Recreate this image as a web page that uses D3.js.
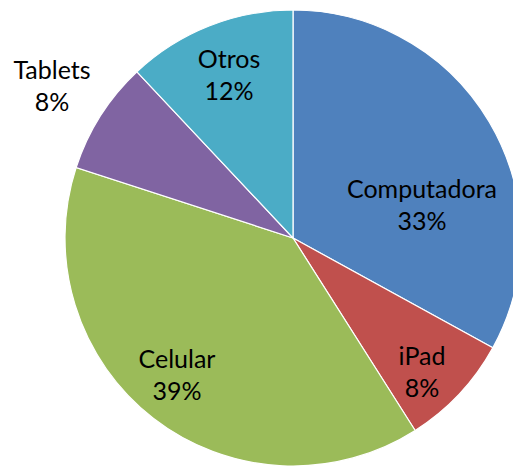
<!DOCTYPE html>
<html>
<head>
<meta charset="utf-8">
<script src="https://cdn.jsdelivr.net/npm/d3@7"></script>
<style>
  body { margin: 0; background: #fff; }
  svg text { font-family: Lato, "Open Sans", sans-serif; fill: #000; }
</style>
</head>
<body>
<div id="chart"></div>
<script>
// data
var categories = ["Computadora", "iPad", "Celular", "Tablets", "Otros"];
var values = [33, 8, 39, 8, 12];
var colors = ["#4F81BD", "#C0504D", "#9BBB59", "#8064A2", "#4BACC6"];

var width = 513, height = 466;
var cx = 293, cy = 238, radius = 228;

var svg = d3.select("#chart")
  .append("svg")
    .attr("width", width)
    .attr("height", height)
  .append("g")
    .attr("transform", "translate(" + cx + "," + cy + ")");

var pie = d3.pie().sort(null).value(function(d) { return d.value; });
var arc = d3.arc().innerRadius(0).outerRadius(radius);

var data = categories.map(function(c, i) { return {name: c, value: values[i], color: colors[i]}; });
var arcs = pie(data);

svg.selectAll("path")
  .data(arcs)
  .enter()
  .append("path")
    .attr("d", arc)
    .style("fill", function(d) { return d.data.color; })
    .style("stroke", "#fff")
    .style("stroke-width", 1.2);

// label placement (Excel "best fit"), offsets from center
var labelPos = [[129, -40], [129, 127], [-116, 130], [-241, -159], [-64, -170]];

var label = svg.selectAll("text")
  .data(arcs)
  .enter()
  .append("text")
    .attr("text-anchor", "middle")
    .style("font-size", "25px")
    .attr("transform", function(d, i) { return "translate(" + labelPos[i][0] + "," + labelPos[i][1] + ")"; });

label.append("tspan")
  .attr("x", 0)
  .text(function(d) { return d.data.name; });
label.append("tspan")
  .attr("x", 0)
  .attr("dy", 32)
  .text(function(d) { return d.data.value + "%"; });
</script>
</body>
</html>
